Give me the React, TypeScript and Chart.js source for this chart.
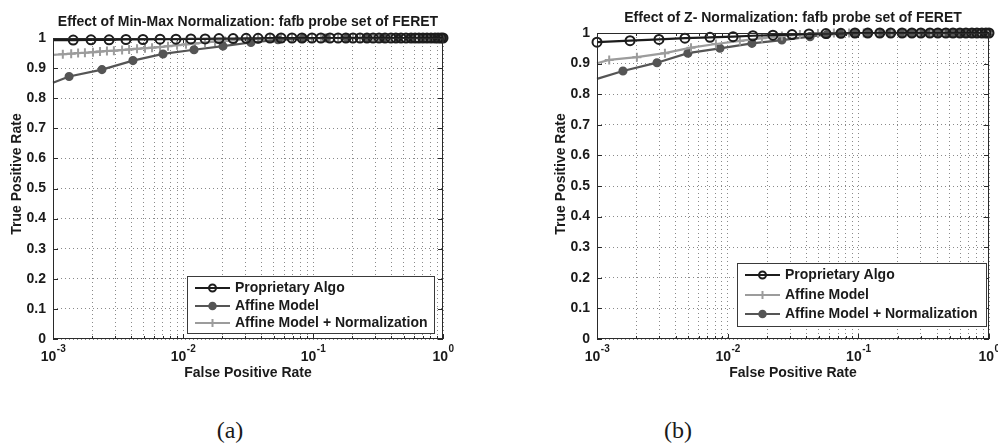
import React, { useEffect, useRef } from 'react';
import { Chart, registerables } from 'chart.js';

Chart.register(...registerables);

const FONT = "'Liberation Sans', Arial, Helvetica, sans-serif";

// ---------- axes ----------
const xGridValues = [
  0.001, 0.002, 0.003, 0.004, 0.005, 0.006, 0.007, 0.008, 0.009,
  0.01, 0.02, 0.03, 0.04, 0.05, 0.06, 0.07, 0.08, 0.09,
  0.1, 0.2, 0.3, 0.4, 0.5, 0.6, 0.7, 0.8, 0.9, 1,
];
const xMajorExponents = [-3, -2, -1, 0];
const yTickValues = [0, 0.1, 0.2, 0.3, 0.4, 0.5, 0.6, 0.7, 0.8, 0.9, 1];
const yTickLabels = ['0', '0.1', '0.2', '0.3', '0.4', '0.5', '0.6', '0.7', '0.8', '0.9', '1'];

const xAxisLabel = 'False Positive Rate';
const yAxisLabel = 'True Positive Rate';

// ---------- chart (a) : Min-Max normalization ----------
const titleA = 'Effect of Min-Max Normalization: fafb probe set of FERET';
const labelsA = ['Proprietary Algo', 'Affine Model', 'Affine Model + Normalization'];

const proprietaryA: [number, number][] = [
  [0.001, 0.993], [0.00143, 0.993], [0.00196, 0.994], [0.0027, 0.994], [0.00364, 0.995],
  [0.00492, 0.995], [0.00666, 0.996], [0.00883, 0.996], [0.0115, 0.997], [0.0148, 0.997],
  [0.0189, 0.998], [0.0243, 0.998], [0.0306, 0.999], [0.0378, 0.999], [0.0467, 1],
  [0.0568, 1], [0.0689, 1], [0.0822, 1], [0.0982, 1], [0.115, 1], [0.135, 1], [0.156, 1],
  [0.179, 1], [0.203, 1], [0.23, 1], [0.26, 1], [0.29, 1], [0.322, 1], [0.358, 1],
  [0.398, 1], [0.434, 1], [0.475, 1], [0.519, 1], [0.568, 1], [0.61, 1], [0.653, 1],
  [0.701, 1], [0.753, 1], [0.809, 1], [0.868, 1], [0.916, 1], [0.966, 1], [1, 1],
];

const affineA: [number, number][] = [
  [0.001, 0.851], [0.00133, 0.872], [0.00238, 0.895], [0.00412, 0.925], [0.00702, 0.947],
  [0.01216, 0.961], [0.0203, 0.973], [0.0333, 0.985], [0.0538, 0.994], [0.0838, 0.998],
  [0.126, 1], [0.183, 1], [0.256, 1], [0.345, 1], [0.451, 1], [0.568, 1], [0.689, 1],
  [0.822, 1], [0.948, 1], [1, 1],
];

const affineNormA: [number, number][] = [
  [0.001, 0.944], [0.00119, 0.946], [0.00138, 0.948], [0.00156, 0.95], [0.00176, 0.951],
  [0.00203, 0.953], [0.0023, 0.955], [0.0026, 0.957], [0.00294, 0.958], [0.0034, 0.96],
  [0.00385, 0.962], [0.00443, 0.964], [0.0051, 0.966], [0.00578, 0.968], [0.00666, 0.97],
  [0.00767, 0.973], [0.009, 0.976], [0.01054, 0.979], [0.01236, 0.982], [0.01476, 0.985],
  [0.01763, 0.988], [0.02104, 0.99], [0.02558, 0.993], [0.0311, 0.995], [0.0378, 0.997],
  [0.0467, 0.999], [0.0568, 1], [0.0689, 1], [0.0822, 1], [0.0982, 1], [0.115, 1],
  [0.135, 1], [0.156, 1], [0.179, 1], [0.203, 1], [0.23, 1], [0.26, 1], [0.29, 1],
  [0.322, 1], [0.358, 1], [0.398, 1], [0.434, 1], [0.475, 1], [0.519, 1], [0.568, 1],
  [0.61, 1], [0.653, 1], [0.701, 1], [0.753, 1], [0.809, 1], [0.868, 1], [0.916, 1],
  [0.966, 1], [1, 1],
];

// ---------- chart (b) : Z-normalization ----------
const titleB = 'Effect of Z- Normalization: fafb probe set of FERET';
const labelsB = ['Proprietary Algo', 'Affine Model', 'Affine Model + Normalization'];

const proprietaryB: [number, number][] = [
  [0.001, 0.97], [0.00179, 0.975], [0.00298, 0.979], [0.00471, 0.983], [0.00732, 0.986],
  [0.011, 0.988], [0.0156, 0.991], [0.0222, 0.993], [0.0311, 0.995], [0.0419, 0.997],
  [0.0565, 0.998], [0.0736, 0.999], [0.0942, 1], [0.118, 1], [0.146, 1], [0.177, 1],
  [0.216, 1], [0.257, 1], [0.301, 1], [0.353, 1], [0.406, 1], [0.468, 1], [0.53, 1],
  [0.599, 1], [0.666, 1], [0.74, 1], [0.808, 1], [0.882, 1], [0.947, 1], [1, 1],
];

const affineB: [number, number][] = [
  [0.001, 0.901], [0.00124, 0.912], [0.00202, 0.921], [0.00331, 0.934], [0.00524, 0.952],
  [0.00813, 0.964], [0.0124, 0.974], [0.0183, 0.983], [0.026, 0.99], [0.0357, 0.995],
  [0.0491, 0.998], [0.065, 1], [0.085, 1], [0.11, 1], [0.14, 1], [0.18, 1], [0.23, 1],
  [0.29, 1], [0.36, 1], [0.45, 1], [0.56, 1], [0.7, 1], [0.85, 1], [1, 1],
];

const affineNormB: [number, number][] = [
  [0.001, 0.85], [0.00158, 0.876], [0.00288, 0.903], [0.00496, 0.934], [0.00873, 0.95],
  [0.01534, 0.966], [0.026, 0.977], [0.0427, 0.988], [0.0575, 0.995], [0.0723, 0.998],
  [0.0942, 1], [0.118, 1], [0.146, 1], [0.177, 1], [0.216, 1], [0.257, 1], [0.301, 1],
  [0.353, 1], [0.406, 1], [0.468, 1], [0.53, 1], [0.599, 1], [0.666, 1], [0.74, 1],
  [0.808, 1], [0.882, 1], [0.947, 1], [1, 1],
];

// ---------- styles ----------
type Style = { color: string; fill: string; marker: 'circle' | 'cross'; r: number; pbw: number; skipFirst: boolean };
const BLACK: Style = { color: '#1c1c1c', fill: 'rgba(0,0,0,0)', marker: 'circle', r: 4.5, pbw: 2, skipFirst: true };
const DARK: Style = { color: '#555555', fill: '#555555', marker: 'circle', r: 3.8, pbw: 1.5, skipFirst: true };
const LIGHT: Style = { color: '#9c9c9c', fill: '#9c9c9c', marker: 'cross', r: 4.5, pbw: 2, skipFirst: true };
const BLACK_B: Style = { ...BLACK, skipFirst: false };

function series(label: string, pts: [number, number][], s: Style) {
  return {
    label,
    data: pts.map(([x, y]) => ({ x, y })),
    borderColor: s.color,
    backgroundColor: s.fill,
    borderWidth: 2.2,
    pointStyle: s.marker,
    pointRadius: (c: any) => (s.skipFirst && c.dataIndex === 0 ? 0 : s.r),
    pointHoverRadius: (c: any) => (s.skipFirst && c.dataIndex === 0 ? 0 : s.r),
    pointBorderColor: s.color,
    pointBackgroundColor: s.fill,
    pointBorderWidth: s.pbw,
    tension: 0,
    fill: false,
    clip: 8,
    _style: s,
  };
}

function drawMarker(ctx: CanvasRenderingContext2D, s: Style, x: number, y: number, r: number) {
  ctx.save();
  ctx.strokeStyle = s.color;
  ctx.fillStyle = s.fill;
  ctx.lineWidth = s.pbw;
  if (s.marker === 'circle') {
    ctx.beginPath();
    ctx.arc(x, y, r, 0, Math.PI * 2);
    ctx.fill();
    ctx.stroke();
  } else {
    ctx.beginPath();
    ctx.moveTo(x - r, y);
    ctx.lineTo(x + r, y);
    ctx.moveTo(x, y - r);
    ctx.lineTo(x, y + r);
    ctx.stroke();
  }
  ctx.restore();
}

const matlabPlugin = {
  id: 'matlab',
  afterDraw(chart: any, _args: any, o: any) {
    const ctx: CanvasRenderingContext2D = chart.ctx;
    const { left, right, top, bottom } = chart.chartArea;
    const xs = chart.scales.x;
    const ys = chart.scales.y;
    const cx = (left + right) / 2;
    ctx.save();
    // axes box
    ctx.strokeStyle = '#2a2a2a';
    ctx.lineWidth = 1;
    ctx.strokeRect(Math.round(left) + 0.5, Math.round(top) + 0.5, Math.round(right - left) - 1, Math.round(bottom - top) - 1);
    // inner tick marks
    ctx.beginPath();
    for (const v of yTickValues) {
      const py = Math.round(ys.getPixelForValue(v)) + 0.5;
      ctx.moveTo(left, py); ctx.lineTo(left + 5, py);
      ctx.moveTo(right - 5, py); ctx.lineTo(right, py);
    }
    for (const v of xGridValues) {
      const px = Math.round(xs.getPixelForValue(v)) + 0.5;
      const major = Math.abs(Math.log10(v) - Math.round(Math.log10(v))) < 1e-9;
      const len = major ? 5 : 3;
      ctx.moveTo(px, bottom); ctx.lineTo(px, bottom - len);
      ctx.moveTo(px, top); ctx.lineTo(px, top + len);
    }
    ctx.stroke();

    ctx.fillStyle = '#1a1a1a';
    // x tick labels 10^n
    for (const e of xMajorExponents) {
      const px = xs.getPixelForValue(Math.pow(10, e));
      ctx.font = `bold 14px ${FONT}`;
      const wb = ctx.measureText('10').width;
      ctx.font = `bold 10px ${FONT}`;
      const sup = String(e);
      const ws = ctx.measureText(sup).width;
      const x0 = px - (wb + ws) / 2;
      ctx.textBaseline = 'middle';
      ctx.textAlign = 'left';
      ctx.font = `bold 14px ${FONT}`;
      ctx.fillText('10', x0, o.tickY);
      ctx.font = `bold 10px ${FONT}`;
      ctx.fillText(sup, x0 + wb + 0.5, o.tickY - 8);
    }
    // title
    ctx.textAlign = 'center';
    ctx.textBaseline = 'middle';
    ctx.font = `bold 14px ${FONT}`;
    ctx.fillText(o.title, cx, o.titleY);
    // x label
    ctx.fillText(xAxisLabel, cx, o.xLabelY);
    // y label
    ctx.save();
    ctx.translate(o.yLabelX, o.yLabelY);
    ctx.rotate(-Math.PI / 2);
    ctx.fillText(yAxisLabel, 0, 0);
    ctx.restore();

    // legend
    const L = o.legend;
    ctx.fillStyle = '#ffffff';
    ctx.fillRect(L.x, L.y, L.w, L.h);
    ctx.strokeStyle = '#3a3a3a';
    ctx.lineWidth = 1;
    ctx.strokeRect(L.x + 0.5, L.y + 0.5, L.w, L.h);
    chart.data.datasets.forEach((ds: any, i: number) => {
      const s: Style = ds._style;
      const ry = L.rows[i];
      ctx.strokeStyle = s.color;
      ctx.lineWidth = 2.2;
      ctx.beginPath();
      ctx.moveTo(L.lineX0, ry);
      ctx.lineTo(L.lineX1, ry);
      ctx.stroke();
      drawMarker(ctx, s, (L.lineX0 + L.lineX1) / 2, ry, s.marker === 'circle' ? 3.5 : 4);
      ctx.fillStyle = '#1a1a1a';
      ctx.font = `bold 14px ${FONT}`;
      ctx.textAlign = 'left';
      ctx.textBaseline = 'middle';
      ctx.fillText(ds.label, L.textX, ry);
    });
    ctx.restore();
  },
};

function buildConfig(p: any) {
  return {
    type: 'line',
    data: { datasets: p.datasets },
    plugins: [matlabPlugin],
    options: {
      animation: false,
      responsive: false,
      events: [],
      devicePixelRatio: 1,
      layout: { padding: { left: 0, top: p.plotTop, right: p.padRight, bottom: 0 } },
      plugins: {
        legend: { display: false },
        title: { display: false },
        tooltip: { enabled: false },
        matlab: p.deco,
      },
      scales: {
        x: {
          type: 'logarithmic',
          min: 0.001,
          max: 1,
          afterBuildTicks: (s: any) => { s.ticks = xGridValues.map((v) => ({ value: v })); },
          ticks: { display: false },
          grid: { color: '#8a8a8a', lineWidth: 1, drawTicks: false },
          border: { display: false, dash: [1, 3] },
          afterFit: (s: any) => { s.height = 400 - p.plotBottom; },
        },
        y: {
          type: 'linear',
          min: 0,
          max: 1,
          afterBuildTicks: (s: any) => { s.ticks = yTickValues.map((v) => ({ value: v })); },
          ticks: {
            callback: (_v: any, i: number) => yTickLabels[i],
            font: { family: FONT, size: 14, weight: 'bold' },
            color: '#1a1a1a',
            padding: 7,
          },
          grid: { color: '#8a8a8a', lineWidth: 1, drawTicks: false },
          border: { display: false, dash: [1, 3] },
          afterFit: (s: any) => { s.width = p.plotLeft; },
        },
      },
    },
  };
}

const panelA = {
  width: 500,
  plotLeft: 53,
  plotTop: 38,
  padRight: 57,
  plotBottom: 339,
  datasets: [
    series(labelsA[0], proprietaryA, BLACK),
    series(labelsA[1], affineA, DARK),
    series(labelsA[2], affineNormA, LIGHT),
  ],
  deco: {
    title: titleA,
    titleY: 22,
    xLabelY: 373,
    tickY: 357,
    yLabelX: 17,
    yLabelY: 174,
    legend: { x: 187, y: 276, w: 247, h: 57, lineX0: 195, lineX1: 230, textX: 235, rows: [288, 306, 323] },
  },
};

const panelB = {
  width: 498,
  plotLeft: 97,
  plotTop: 33,
  padRight: 9,
  plotBottom: 339,
  datasets: [
    series(labelsB[0], proprietaryB, BLACK_B),
    series(labelsB[1], affineB, LIGHT),
    series(labelsB[2], affineNormB, DARK),
  ],
  deco: {
    title: titleB,
    titleY: 18,
    xLabelY: 373,
    tickY: 357,
    yLabelX: 61,
    yLabelY: 174,
    legend: { x: 237, y: 263, w: 249, h: 63, lineX0: 245, lineX1: 280, textX: 285, rows: [275, 295, 314] },
  },
};

function Panel({ p, left }: { p: any; left: number }) {
  const ref = useRef<HTMLCanvasElement>(null);
  useEffect(() => {
    const chart = new Chart(ref.current as HTMLCanvasElement, buildConfig(p) as any);
    return () => chart.destroy();
  }, []);
  return (
    <canvas
      ref={ref}
      width={p.width}
      height={400}
      style={{ position: 'absolute', left, top: 0, width: p.width, height: 400 }}
    />
  );
}

const captionStyle: React.CSSProperties = {
  position: 'absolute',
  top: 416,
  width: 60,
  textAlign: 'center',
  fontFamily: "'Liberation Serif', 'Times New Roman', serif",
  fontSize: 24,
  lineHeight: '28px',
  color: '#1a1a1a',
};

export default function App() {
  return (
    <div style={{ position: 'fixed', left: 0, top: 0, width: 998, height: 445, background: '#ffffff', overflow: 'hidden' }}>
      <Panel p={panelA} left={0} />
      <Panel p={panelB} left={500} />
      <div style={{ ...captionStyle, left: 200 }}>(a)</div>
      <div style={{ ...captionStyle, left: 648 }}>(b)</div>
    </div>
  );
}
